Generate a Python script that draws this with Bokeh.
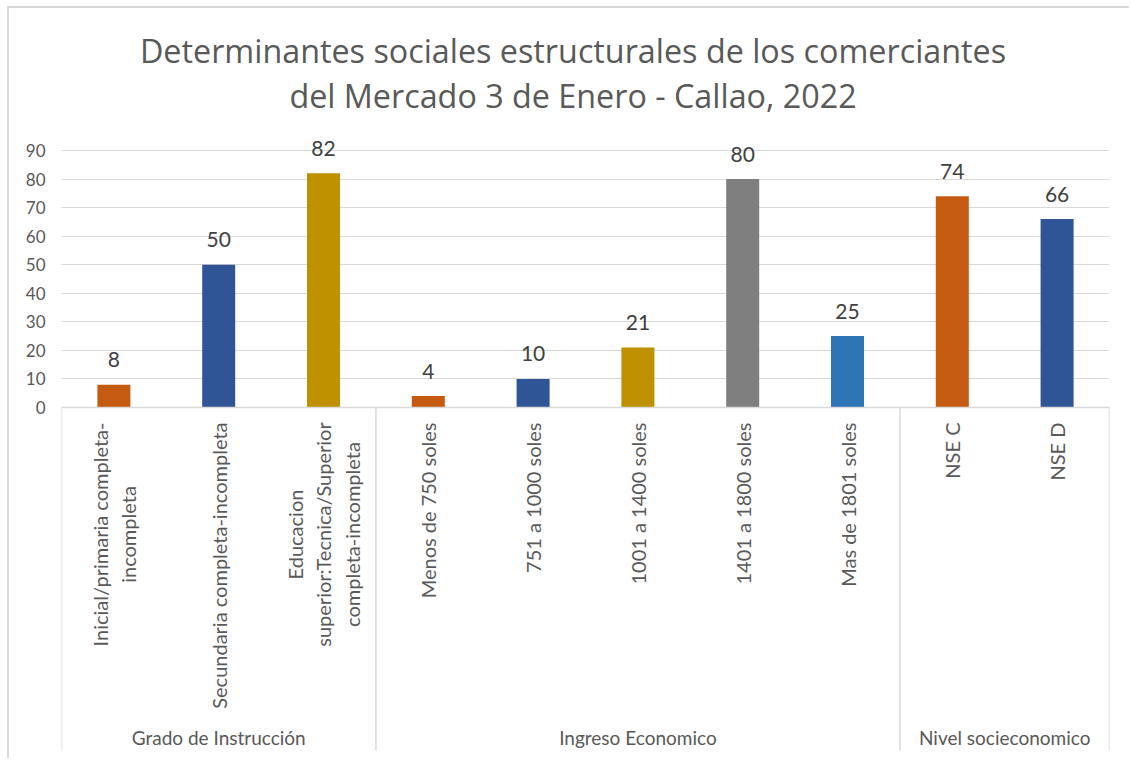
import numpy as np
from bokeh.plotting import figure
from bokeh.models import ColumnDataSource, Range1d, FixedTicker
from bokeh.core.properties import value
from bokeh.embed import file_html
from bokeh.resources import INLINE

# ---------------- data ----------------
title_lines = ["Determinantes sociales estructurales de los comerciantes",
               "del Mercado 3 de Enero - Callao, 2022"]
groups = ["Grado de Instrucción", "Ingreso Economico", "Nivel socieconomico"]
group_sizes = [3, 5, 2]
categories = ["Inicial/primaria completa-\nincompleta",
              "Secundaria completa-incompleta",
              "Educacion\nsuperior:Tecnica/Superior\ncompleta-incompleta",
              "Menos de 750 soles",
              "751 a 1000 soles",
              "1001 a 1400 soles",
              "1401 a 1800 soles",
              "Mas de 1801 soles",
              "NSE C",
              "NSE D"]
values = [8, 50, 82, 4, 10, 21, 80, 25, 74, 66]
colors = ["#C55A11", "#2F5597", "#BF9000",
          "#C55A11", "#2F5597", "#BF9000", "#7F7F7F", "#2E75B6",
          "#C55A11", "#2F5597"]
y_ticks = [0, 10, 20, 30, 40, 50, 60, 70, 80, 90]

# ---------------- layout (figure pixels) ----------------
FONT = "Lato"
TITLE_FONT = "Open Sans"
W, H = 1122, 752
FRAME_L, FRAME_R = 52, 1100
Y0_PX, YTOP_PX = 399, 142          # pixel rows of value 0 and value 90
scale = (Y0_PX - YTOP_PX) / y_ticks[-1]
n = len(categories)

def py(px):   # figure pixel row -> data y
    return (Y0_PX - px) / scale

def pxx(px):  # figure pixel column -> data x
    return (px - FRAME_L) / (FRAME_R - FRAME_L) * n

p = figure(width=W, height=H, output_backend="svg", toolbar_location=None,
           x_range=Range1d(0, n), y_range=Range1d(py(H), py(0)),
           x_axis_type=None, min_border_left=FRAME_L, min_border_right=W - FRAME_R,
           min_border_top=0, min_border_bottom=0)
p.outline_line_color = None
p.background_fill_color = "white"
p.border_fill_color = "white"
p.styles = {"margin-left": "7px", "margin-top": "6px",
            "border-top": "2px solid #D9D9D9", "border-left": "2px solid #D9D9D9"}

# y axis
ax = p.yaxis[0]
ax.ticker = FixedTicker(ticks=y_ticks)
ax.axis_line_color = None
ax.major_tick_line_color = None
ax.minor_tick_line_color = None
ax.major_tick_out = 0
ax.major_label_standoff = 16
ax.major_label_text_font = FONT
ax.major_label_text_font_size = "17px"
ax.major_label_text_color = "#595959"
p.xgrid.visible = False
p.ygrid.grid_line_color = "#D9D9D9"
p.ygrid.grid_line_width = 1

xs = [i + 0.5 for i in range(n)]
src = ColumnDataSource(dict(x=xs, top=values, color=colors,
                            label=[str(v) for v in values]))
p.vbar(x="x", top="top", bottom=0, width=0.315, fill_color="color",
       line_color=None, source=src)

# data labels
p.text(x="x", y="top", text="label", source=src, text_font=value(FONT),
       text_font_size="21px", text_color="#404040", text_align="center",
       text_baseline="middle", y_offset=-25)

# category labels
aligns, offs = [], []
for c in categories:
    lines = c.split("\n")
    if len(lines) == 1:
        aligns.append("right"); offs.append(15)
    else:
        aligns.append("center"); offs.append(15 + 112)
csrc = ColumnDataSource(dict(x=xs, y=[0] * n, text=categories, align=aligns, off=offs))
p.text(x="x", y="y", text="text", source=csrc, angle=np.pi / 2,
       text_align="align", y_offset="off", text_baseline="middle",
       text_font=value(FONT), text_font_size="20px", text_color="#595959",
       text_line_height=1.2)

# separators and axis line
bounds = np.concatenate([[0], np.cumsum(group_sizes)])
p.segment(x0=bounds, y0=[0] * len(bounds), x1=bounds, y1=[py(742)] * len(bounds),
          line_color="#D9D9D9", line_width=1.5)
p.segment(x0=[0], y0=[0], x1=[n], y1=[0], line_color="#D9D9D9", line_width=1.5)

# group labels
gx = [(bounds[i] + bounds[i + 1]) / 2 for i in range(len(groups))]
p.text(x=gx, y=[py(729)] * len(groups), text=groups, text_font=value(FONT),
       text_font_size="19px", text_color="#595959", text_align="center",
       text_baseline="middle")

# title
p.text(x=[pxx(563.5)] * 2, y=[py(41), py(86)], text=title_lines,
       text_font=value(TITLE_FONT), text_font_size="32.3px", text_color="#595959",
       text_align="center", text_baseline="middle")

open("out.html", "w").write(file_html(p, INLINE))
